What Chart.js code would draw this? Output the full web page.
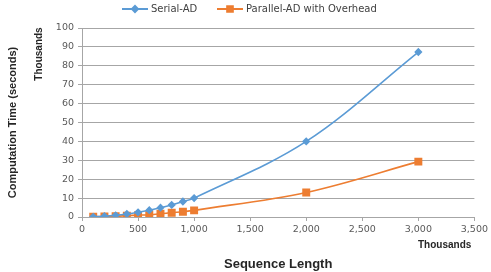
<!DOCTYPE html>
<html>
<head>
<meta charset="utf-8">
<script src="https://cdn.jsdelivr.net/npm/chart.js@4/dist/chart.umd.min.js"></script>
<style>
  html, body { margin: 0; padding: 0; background: #fff; }
  #wrap { width: 491px; height: 272px; position: relative; }
</style>
</head>
<body>
<div id="wrap"><canvas id="timeChart"></canvas></div>
<script>
// sequence length (thousands)
const seqLength = [100, 200, 300, 400, 500, 600, 700, 800, 900, 1000, 2000, 3000];
// computation time (thousands of seconds)
const serialAD = [0.1, 0.4, 0.9, 1.6, 2.5, 3.6, 4.9, 6.4, 8.2, 10, 40, 87.3];
const parallelAD = [0.1, 0.3, 0.4, 0.7, 1.0, 1.2, 1.7, 2.3, 2.8, 3.5, 13, 29.3];
const seriesNames = ['Serial-AD', 'Parallel-AD with Overhead'];
const seriesColors = ['#5b9bd5', '#ed7d31'];

const xy = (xs, ys) => xs.map((x, i) => ({ x, y: ys[i] }));

// legend + "Thousands" unit labels drawn on the canvas
const extras = {
  id: 'extras',
  afterDraw(chart) {
    const c = chart.ctx;
    c.save();
    // legend
    const items = [
      { x: 122, style: 'rectRot', r: 3 },
      { x: 217, style: 'rect', r: 4 }
    ];
    c.font = '10px "DejaVu Sans"';
    c.textBaseline = 'middle';
    items.forEach((it, i) => {
      const y = 9;
      c.strokeStyle = seriesColors[i];
      c.lineWidth = 2;
      c.beginPath(); c.moveTo(it.x, y); c.lineTo(it.x + 26, y); c.stroke();
      Chart.helpers.drawPoint(c, { pointStyle: it.style, radius: it.r, borderWidth: 1 }, it.x + 13, y);
      c.fillStyle = seriesColors[i];
      c.fill();
      c.fillStyle = '#404040';
      c.textAlign = 'left';
      c.fillText(seriesNames[i], it.x + 29, y);
    });
    // unit labels
    c.fillStyle = '#262626';
    c.font = 'bold 10px "Liberation Sans Narrow", "Liberation Sans"';
    c.translate(39, 54);
    c.rotate(-Math.PI / 2);
    c.textAlign = 'center';
    c.textBaseline = 'middle';
    c.fillText('Thousands', 0, 0);
    c.restore();
    c.save();
    c.fillStyle = '#262626';
    c.font = 'bold 10px "Liberation Sans"';
    c.textAlign = 'left';
    c.textBaseline = 'middle';
    c.fillText('Thousands', 418, 245);
    c.restore();
  }
};

new Chart(document.getElementById('timeChart'), {
  type: 'line',
  data: {
    datasets: [
      {
        label: seriesNames[0],
        data: xy(seqLength, serialAD),
        borderColor: seriesColors[0],
        backgroundColor: seriesColors[0],
        borderWidth: 1.6,
        pointStyle: 'rectRot',
        pointRadius: 3,
        tension: 0.35
      },
      {
        label: seriesNames[1],
        data: xy(seqLength, parallelAD),
        borderColor: seriesColors[1],
        backgroundColor: seriesColors[1],
        borderWidth: 1.6,
        pointStyle: 'rect',
        pointRadius: 4.5,
        tension: 0.35
      }
    ]
  },
  options: {
    responsive: true,
    maintainAspectRatio: false,
    animation: false,
    layout: { padding: { left: 6, right: 14, top: 28, bottom: 0 } },
    plugins: { legend: { display: false }, tooltip: { enabled: false } },
    scales: {
      x: {
        type: 'linear',
        min: 0, max: 3500,
        ticks: {
          stepSize: 500,
          color: '#595959',
          font: { family: 'DejaVu Sans', size: 9.5 },
          padding: 3,
          maxRotation: 0,
          callback: v => v.toLocaleString('en-US')
        },
        grid: { drawOnChartArea: false, drawTicks: true, tickLength: 4, color: '#a6a6a6' },
        border: { color: '#a6a6a6' },
        title: {
          display: true,
          text: 'Sequence Length',
          color: '#262626',
          font: { family: 'Liberation Sans', size: 13, weight: 'bold' },
          padding: { top: 22, bottom: 0 }
        },
        afterFit: s => { s.height = 55; }
      },
      y: {
        min: 0, max: 100,
        ticks: {
          stepSize: 10,
          color: '#595959',
          font: { family: 'DejaVu Sans', size: 9.5 },
          padding: 4
        },
        grid: { color: '#a6a6a6', tickLength: 4 },
        border: { color: '#a6a6a6' },
        title: {
          display: true,
          text: 'Computation Time (seconds)',
          color: '#262626',
          font: { family: 'Liberation Sans', size: 11, weight: 'bold' },
          padding: { top: 0, bottom: 0 }
        },
        afterFit: s => { s.width = 76; }
      }
    }
  },
  plugins: [extras]
});
</script>
</body>
</html>
